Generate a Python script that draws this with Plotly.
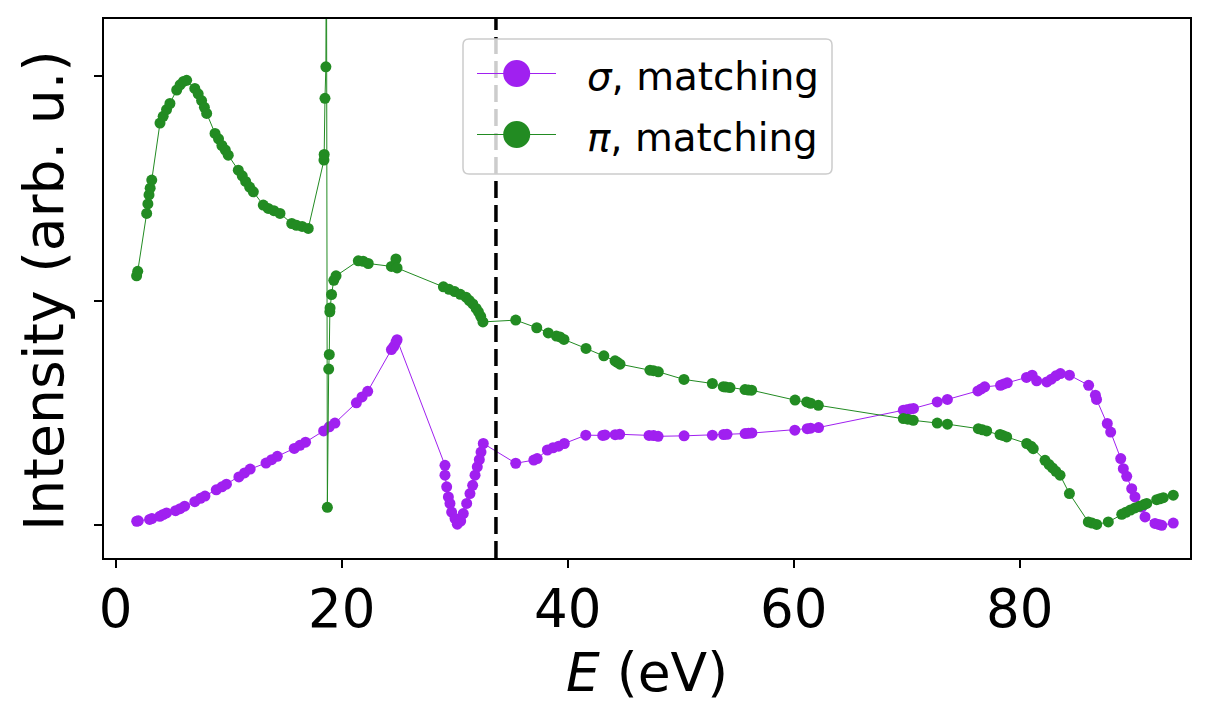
import plotly.graph_objects as go

# ---------------- data ----------------
sigma_E = [1.86, 2.0, 3.0, 3.2, 3.9, 4.2, 4.5, 5.3, 5.7, 6.1, 7.0, 7.5, 7.9,
           8.9, 9.4, 9.8, 10.9, 11.4, 11.9, 13.3, 13.8, 14.3, 15.8, 16.3, 16.8,
           18.4, 18.9, 19.4, 21.3, 21.8, 22.3, 24.4, 24.6, 24.8, 24.9,
           29.14, 29.14, 29.29, 29.44, 29.58, 29.73, 30.03, 30.23, 30.53, 30.76,
           31.06, 31.35, 31.59, 31.8, 32.0, 32.18, 32.33, 32.53,
           35.4, 37.0, 37.3, 38.2, 38.7, 39.2, 39.7, 41.6, 43.1, 43.3, 44.2, 44.6,
           47.2, 47.6, 48.0, 50.3, 52.8, 53.8, 54.1, 55.7, 56.0, 56.3, 60.1,
           61.2, 61.5, 62.2, 69.7, 70.0, 70.3, 70.6, 72.7, 73.6, 76.3, 76.6, 76.9,
           78.3, 78.6, 78.9, 80.6, 81.1, 81.5, 82.4, 82.8, 83.2, 83.6, 84.4,
           86.1, 86.7, 86.8, 87.75, 88.05, 88.94, 89.17, 89.47, 89.91, 90.2,
           90.8, 91.09, 91.97, 92.3, 92.57, 93.59]
sigma_I = [0.018, 0.02, 0.026, 0.03, 0.04, 0.048, 0.055, 0.065, 0.074, 0.085, 0.105, 0.12, 0.13,
           0.158, 0.171, 0.183, 0.215, 0.233, 0.25, 0.277, 0.292, 0.307, 0.342, 0.356, 0.37,
           0.42, 0.438, 0.455, 0.545, 0.571, 0.596, 0.782, 0.795, 0.815, 0.826,
           0.267, 0.223, 0.171, 0.126, 0.097, 0.059, 0.03, 0.005, 0.019, 0.052,
           0.097, 0.141, 0.178, 0.223, 0.26, 0.292, 0.326, 0.364,
           0.276, 0.29, 0.297, 0.335, 0.345, 0.352, 0.364, 0.401, 0.40, 0.402, 0.403, 0.405,
           0.40, 0.399, 0.396, 0.398, 0.401, 0.404, 0.405, 0.408, 0.409, 0.411, 0.423,
           0.43, 0.432, 0.435, 0.512, 0.514, 0.517, 0.52, 0.549, 0.56, 0.598, 0.607, 0.616,
           0.623, 0.629, 0.634, 0.658, 0.668, 0.643, 0.638, 0.65, 0.665, 0.675, 0.668,
           0.623, 0.579, 0.56, 0.453, 0.415, 0.297, 0.252, 0.218, 0.163, 0.126,
           0.081, 0.037, 0.008, 0.004, 0.0, 0.01]

pi_E = [1.85, 1.95, 2.74, 2.85, 2.95, 3.05, 3.19, 3.92, 4.2, 4.5, 4.8,
        5.4, 5.7, 6.0, 6.28, 7.0, 7.3, 7.6, 7.85, 8.05, 8.79, 9.1, 9.4, 9.7, 9.96,
        10.85, 11.2, 11.5, 11.85, 12.18, 13.06, 13.5, 14.0, 14.54,
        15.58, 16.0, 16.5, 17.04, 18.43, 18.45, 18.52, 18.6, 18.65, 18.73,
        18.85, 18.9, 18.95, 18.97, 19.1, 19.3, 19.5, 21.47, 21.9, 22.35,
        24.4, 24.8, 24.9, 29.0, 29.5, 30.0, 30.5, 31.0, 31.3, 31.6, 31.9, 32.1, 32.3, 32.5,
        35.4, 37.26, 38.28, 39.0, 39.32, 39.67, 41.62, 43.2, 44.19, 44.4, 44.63,
        47.28, 47.6, 48.02, 50.29, 52.8, 53.77, 54.0, 54.36, 55.69, 56.0, 56.28,
        60.12, 61.15, 61.5, 62.18, 69.7, 70.1, 70.58, 72.7, 73.6, 76.34, 76.7, 77.08,
        78.26, 78.5, 78.85, 80.62, 81.0, 81.2, 82.24, 82.6, 82.9, 83.2, 83.57, 84.4,
        86.07, 86.4, 86.81, 87.84, 89.03, 89.4, 89.8, 90.2, 90.6, 91.0, 91.24,
        92.12, 92.4, 92.71, 93.59]
pi_I = [1.11, 1.13, 1.388, 1.43, 1.47, 1.50, 1.536, 1.79, 1.82, 1.85, 1.877,
        1.937, 1.96, 1.975, 1.98, 1.944, 1.92, 1.89, 1.86, 1.833, 1.744, 1.72, 1.69, 1.67, 1.647,
        1.58, 1.555, 1.53, 1.505, 1.484, 1.425, 1.41, 1.40, 1.388,
        1.343, 1.335, 1.33, 1.321, 1.625, 1.65, 1.90, 2.04, 2.8, 0.08,
        0.695, 0.76, 0.95, 0.967, 1.027, 1.09, 1.11, 1.177, 1.175, 1.165,
        1.152, 1.185, 1.145, 1.061, 1.05, 1.04, 1.028, 1.015, 1.0, 0.985, 0.965, 0.95, 0.93, 0.905,
        0.913, 0.879, 0.856, 0.842, 0.838, 0.827, 0.787, 0.754, 0.732, 0.725, 0.717,
        0.69, 0.688, 0.683, 0.649, 0.631, 0.617, 0.615, 0.613, 0.604, 0.602, 0.601,
        0.557, 0.549, 0.543, 0.534, 0.475, 0.472, 0.467, 0.455, 0.45, 0.43, 0.425, 0.42,
        0.404, 0.40, 0.393, 0.364, 0.352, 0.341, 0.289, 0.27, 0.255, 0.24, 0.223, 0.141,
        0.015, 0.01, 0.004, 0.015, 0.049, 0.058, 0.068, 0.077, 0.085, 0.092, 0.097,
        0.114, 0.118, 0.123, 0.134]

E_cut = 33.65
x_ticks = [0, 20, 40, 60, 80]
y_ticks = [0, 1, 2]
legend_labels = ["<i>σ</i>, matching", "<i>π</i>, matching"]

# ---------------- style / layout ----------------
PURPLE = "#a020f0"
GREEN = "#228b22"
FONT = "DejaVu Sans"
OFF = 8                      # page body margin
W, H = 1209 - 2 * OFF, 717 - 2 * OFF
# plot area in page pixels
PL, PR, PT, PB = 104, 1190, 19, 558
L, R, T, B = PL - OFF, PR - OFF, PT - OFF, PB - OFF

def px(xp):   # page pixel -> paper
    return (xp - OFF - L) / (R - L)

def py(yp):
    return (B - (yp - OFF)) / (B - T)

fig = go.Figure()
for xs, ys, col in [(sigma_E, sigma_I, PURPLE), (pi_E, pi_I, GREEN)]:
    fig.add_trace(go.Scatter(x=xs, y=ys, mode="lines+markers",
                             line=dict(color=col, width=1),
                             marker=dict(color=col, size=11, symbol="circle"),
                             showlegend=False))

shapes = []
shapes.append(dict(type="line", xref="x", yref="paper", x0=E_cut, x1=E_cut, y0=0, y1=1,
                   line=dict(color="black", width=3.5, dash="17px,7px"), layer="above"))

# legend box (rounded)
bx0, bx1, by0, by1, rr = 463, 832, 39, 174, 6
path = (f"M {px(bx0+rr)},{py(by0)} L {px(bx1-rr)},{py(by0)} Q {px(bx1)},{py(by0)} {px(bx1)},{py(by0+rr)} "
        f"L {px(bx1)},{py(by1-rr)} Q {px(bx1)},{py(by1)} {px(bx1-rr)},{py(by1)} "
        f"L {px(bx0+rr)},{py(by1)} Q {px(bx0)},{py(by1)} {px(bx0)},{py(by1-rr)} "
        f"L {px(bx0)},{py(by0+rr)} Q {px(bx0)},{py(by0)} {px(bx0+rr)},{py(by0)} Z")
shapes.append(dict(type="path", xref="paper", yref="paper", path=path,
                   fillcolor="rgba(255,255,255,0.8)", line=dict(color="#cccccc", width=1.5),
                   layer="above"))
annotations = []
for i, (lab, col) in enumerate(zip(legend_labels, [PURPLE, GREEN])):
    yc = 73.5 + 61 * i
    shapes.append(dict(type="line", xref="paper", yref="paper", x0=px(477), x1=px(556),
                       y0=py(yc), y1=py(yc), line=dict(color=col, width=1), layer="above"))
    r = 13.5
    shapes.append(dict(type="circle", xref="paper", yref="paper",
                       x0=px(516.7 - r), x1=px(516.7 + r), y0=py(yc + r), y1=py(yc - r),
                       fillcolor=col, line=dict(color=col, width=0), layer="above"))
    annotations.append(dict(xref="paper", yref="paper", x=px(585), y=py(yc + 3),
                            xanchor="left", yanchor="middle", showarrow=False, text=lab,
                            font=dict(family=FONT, size=38.8, color="black")))

annotations.append(dict(xref="paper", yref="paper", x=px(647), y=py(672), xanchor="center",
                        yanchor="middle", showarrow=False, text="<i>E</i> (eV)",
                        font=dict(family=FONT, size=53.5, color="black")))
annotations.append(dict(xref="paper", yref="paper", x=px(44), y=py(291), xanchor="center",
                        yanchor="middle", showarrow=False, text="Intensity (arb. u.)",
                        textangle=-90, font=dict(family=FONT, size=55.3, color="black")))

fig.update_layout(
    width=W, height=H, margin=dict(l=L, r=W - R, t=T, b=H - B, pad=0),
    paper_bgcolor="white", plot_bgcolor="white",
    font=dict(family=FONT, color="black"),
    shapes=shapes, annotations=annotations,
    xaxis=dict(range=[-1.035, 95.07], tickvals=x_ticks, ticktext=[str(v) for v in x_ticks],
               ticks="outside", ticklen=8.5, tickwidth=1.5, tickcolor="black",
               showline=True, linecolor="black", linewidth=1.5, mirror=True,
               showgrid=False, zeroline=False, automargin=False, ticklabelstandoff=-5,
               tickfont=dict(family=FONT, size=53, color="black")),
    yaxis=dict(range=[-0.1456, 2.253], tickvals=y_ticks, showticklabels=False,
               ticks="outside", ticklen=8, tickwidth=1.5, tickcolor="black",
               showline=True, linecolor="black", linewidth=1.5, mirror=True,
               showgrid=False, zeroline=False, automargin=False),
)

fig.write_html("out.html")
